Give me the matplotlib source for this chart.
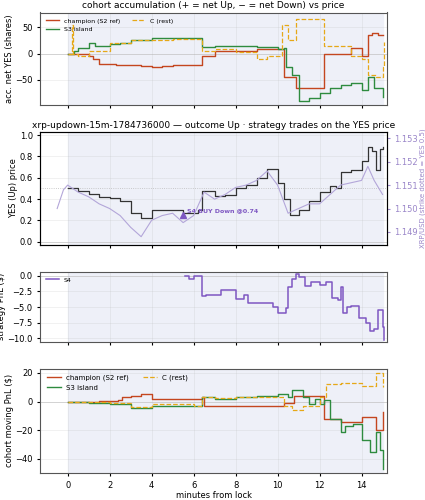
import numpy as np
import matplotlib
matplotlib.use('Agg')
import matplotlib.pyplot as plt

# cohort accumulation (shares)
acc_champ_t = [0, 1.0, 1.2, 1.5, 2.3, 3.0, 3.5, 4.0, 4.5, 5.0, 6.0, 6.4, 7, 8, 9, 10, 10.3, 10.6, 10.9, 11.5, 12.2, 13, 13.5, 14, 14.3, 14.5, 14.8, 15]
acc_champ_v = [0, -5, -10, -20, -22, -22, -23, -26, -23, -22, -22, -5, 5, 5, 8, 8, -45, -45, -65, -65, 0, 0, 10, -5, 35, 40, 35, 35]
acc_s3_t = [0, 0.3, 0.5, 1, 1.3, 2, 2.5, 3, 4, 5, 6.3, 6.4, 7, 8, 9, 10, 10.3, 10.4, 10.7, 11, 11.5, 12, 12.5, 13, 13.5, 14, 14.3, 14.6, 15]
acc_s3_v = [0, 5, 10, 20, 15, 18, 20, 25, 30, 30, 30, 12, 15, 15, 12, 8, 10, -25, -40, -90, -85, -75, -65, -60, -55, -70, -45, -65, -83]
acc_c_t = [0, 0.2, 0.25, 0.5, 1, 2, 3, 4, 5, 6, 6.4, 7, 8, 9, 9.5, 10, 10.2, 10.5, 10.9, 12, 12.2, 13, 13.5, 14, 14.3, 14.7, 15, 15.05]
acc_c_v = [0, 55, 0, -5, 5, 20, 25, 25, 28, 28, 5, 8, 3, -10, -5, -5, 55, 25, 65, 65, 15, 15, -5, -10, -40, -45, -25, 22]

# YES price and XRP price
yes_t = [0, 0.5, 1, 1.5, 2, 2.5, 3, 3.5, 4, 4.5, 5, 5.5, 6.2, 6.4, 7, 7.5, 8, 8.5, 9, 9.5, 10, 10.3, 10.6, 11, 11.5, 12, 12.5, 12.8, 13, 13.5, 14, 14.3, 14.5, 14.7, 14.9, 15]
yes_v = [0.5, 0.48, 0.45, 0.42, 0.41, 0.38, 0.27, 0.22, 0.3, 0.3, 0.3, 0.27, 0.3, 0.48, 0.43, 0.44, 0.5, 0.53, 0.6, 0.68, 0.55, 0.4, 0.25, 0.3, 0.38, 0.47, 0.52, 0.5, 0.65, 0.67, 0.76, 0.89, 0.85, 0.67, 0.87, 0.89]
xrp_t = [-0.5, -0.2, 0, 0.5, 1, 1.5, 2, 2.5, 3, 3.5, 4, 4.5, 5, 5.5, 6, 6.5, 7, 7.5, 8, 8.5, 9, 9.5, 10, 10.5, 11, 11.5, 12, 12.5, 13, 13.5, 14, 14.3, 14.6, 15]
xrp_v = [1.1500, 1.1508, 1.1510, 1.1507, 1.1505, 1.1502, 1.1500, 1.1497, 1.1492, 1.1488, 1.1495, 1.1497, 1.1498, 1.1494,
         1.1497, 1.1507, 1.1504, 1.1506, 1.1509, 1.1510, 1.1512, 1.1516, 1.1510, 1.1498, 1.1500, 1.1502, 1.1502, 1.1506,
         1.1510, 1.1511, 1.1512, 1.1518, 1.1512, 1.1506]

# strategy PnL
s4_t = [5.6, 5.8, 6.0, 6.4, 6.6, 7.3, 7.8, 8.0, 8.4, 8.6, 9.5, 9.8, 10.0, 10.4, 10.5, 10.7, 10.9, 11.0, 11.3, 11.6, 12.0, 12.3, 12.6, 12.9, 13.0, 13.1, 13.3, 13.5, 13.9, 14.2, 14.4, 14.6, 14.8, 15.0, 15.05]
s4_v = [0, -0.5, 0, -3.3, -3, -2.2, -2.3, -3.7, -3, -4.4, -4.4, -5, -6, -5.2, -1.8, -0.5, 0.3, -0.2, -1.6, -1, -1.5, -1, -3.5, -3.8, -1.8, -6, -5, -4.8, -6.8, -7.5, -8.8, -8.5, -5.5, -8.2, -10.2]

# cohort moving PnL
pnl_champ_t = [0, 1.5, 2.4, 2.6, 3, 3.5, 4, 6.4, 6.5, 10, 10.3, 10.8, 11.2, 12, 12.2, 13, 14, 14.7, 15]
pnl_champ_v = [0, 0.5, 1, 3, 4, 5, 2, 3, -3, -3, -1, 4, 4, 4, -12, -14, -11, -20, -7]
pnl_s3_t = [0, 1, 2, 3, 4, 6.4, 7, 8, 9, 10, 10.5, 10.7, 11.2, 11.5, 11.8, 12, 12.2, 12.5, 13, 13.2, 13.6, 14, 14.4, 14.7, 14.9, 15]
pnl_s3_v = [0, -1, -2, -4.5, -3, 3, 2, 3, 4, 5, 3, 8, 3, -2, 2, -2, 1, -12, -21, -17, -16, -27, -35, -21, -34, -47]
pnl_c_t = [0, 1, 2, 3, 4, 6, 6.4, 7, 8, 9, 10, 10.3, 10.7, 11.2, 12, 12.3, 13, 14, 14.7, 15]
pnl_c_v = [0, 0, -1, -4, -2, -3, 3, 2.5, 3, 3, 3, -3, -6, -3, 3, 12, 13, 11, 20, 10]

CHAMP = '#c4461f'
S3 = '#2e8b3f'
CC = '#e6a817'
PURP = '#7e57c2'

fig, axes = plt.subplots(4, 1, sharex=True, figsize=(4.25, 5), dpi=100,
                         gridspec_kw={'height_ratios': [96, 117, 73, 108]})

for ax in axes:
    ax.axvspan(0, 15, color='#eef0f8', zorder=0)
    ax.grid(alpha=0.3, lw=0.4)
    ax.tick_params(labelsize=6, length=2)
    for s in ax.spines.values():
        s.set_color('#555555')
    ax.axhline(0, color='#cccccc', lw=0.5, zorder=0.5)

ax = axes[0]
ax.step(acc_champ_t, acc_champ_v, where='post', color=CHAMP, lw=1, label='champion (S2 ref)')
ax.step(acc_s3_t, acc_s3_v, where='post', color=S3, lw=1, label='S3 island')
ax.step(acc_c_t, acc_c_v, where='post', color=CC, lw=0.9, ls='--', label='C (rest)')
ax.set_ylabel('acc. net YES (shares)', fontsize=6, labelpad=1)
ax.set_title('cohort accumulation (+ = net Up, \u2212 = net Down) vs price', fontsize=6.5, pad=3)
ax.legend(loc='upper left', ncol=2, fontsize=4.5, frameon=False)
ax.set_ylim(-98, 78)

ax = axes[1]
ax.axhline(0.5, color='#bbbbbb', lw=0.6, ls=':')
ax.step(yes_t, yes_v, where='post', color='#333333', lw=0.9)
ax.plot(5.5, 0.25, marker='^', color=PURP, ms=5)
ax.annotate('S4 BUY Down @0.74', (5.5, 0.25), xytext=(3, 2), textcoords='offset points',
            fontsize=4.5, color=PURP, fontweight='bold')
ax.set_ylim(-0.03, 1.03)
ax.set_ylabel('YES (Up) price', fontsize=6, labelpad=1)
ax.set_title('xrp-updown-15m-1784736000 \u2014 outcome Up \u00b7 strategy trades on the YES price', fontsize=6.5, pad=3)
ax2 = ax.twinx()
ax2.plot(xrp_t, xrp_v, color='#b3a6d9', lw=0.8)
ax2.set_ylim(1.14845, 1.15327)
ax2.set_yticks([1.149, 1.150, 1.151, 1.152, 1.153])
ax2.tick_params(labelsize=6, colors='#9a86c9', length=2)
ax2.set_ylabel('XRP/USD (strike dotted = YES 0.5)', fontsize=5, color='#9a86c9', labelpad=1)

ax = axes[2]
ax.step(s4_t, s4_v, where='post', color=PURP, lw=1.1, label='S4')
ax.set_ylim(-10.6, 0.7)
ax.set_yticks([0, -2.5, -5, -7.5, -10])
ax.set_ylabel('strategy PnL ($)', fontsize=6, labelpad=1)
ax.legend(loc='upper left', fontsize=4.5, frameon=False)

ax = axes[3]
ax.step(pnl_champ_t, pnl_champ_v, where='post', color=CHAMP, lw=1, label='champion (S2 ref)')
ax.step(pnl_s3_t, pnl_s3_v, where='post', color=S3, lw=1, label='S3 island')
ax.step(pnl_c_t, pnl_c_v, where='post', color=CC, lw=0.9, ls='--', label='C (rest)')
ax.set_ylim(-50, 23)
ax.set_ylabel('cohort moving PnL ($)', fontsize=6, labelpad=1)
ax.set_xlabel('minutes from lock', fontsize=6, labelpad=1)
ax.legend(loc='upper left', ncol=2, fontsize=5, frameon=False)
ax.set_xlim(-1.3, 15.2)
ax.set_xticks([0, 2, 4, 6, 8, 10, 12, 14])

fig.subplots_adjust(left=0.095, right=0.91, top=0.975, bottom=0.054, hspace=0.28)
fig.savefig('out.png', dpi=100)
